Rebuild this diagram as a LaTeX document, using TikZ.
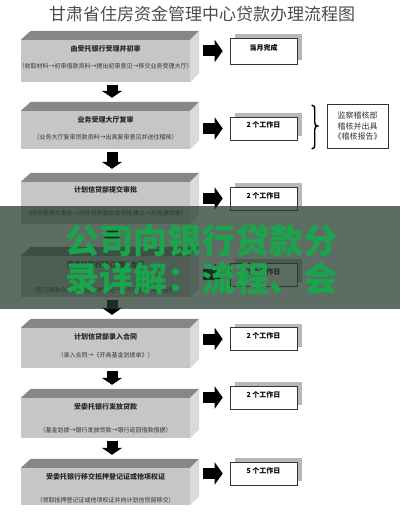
\documentclass[tikz,border=0pt]{standalone}
\usepackage{fontspec}
\setmainfont{Noto Sans CJK SC}
\usetikzlibrary{arrows.meta,shadows}
\definecolor{topgray}{RGB}{135,135,135}
\definecolor{frontgray}{RGB}{198,198,198}
\definecolor{sidegray}{RGB}{218,218,218}
\definecolor{bandgreen}{RGB}{40,60,48}
\definecolor{markgreen}{RGB}{25,165,75}

\begin{document}
\begin{tikzpicture}[x=1pt,y=-1pt,
  front/.style={fill=frontgray,minimum width=169pt,inner sep=0pt},
  boxtitle/.style={font=\fontsize{7}{8}\selectfont\bfseries,text=black!85,inner sep=0pt},
  boxnote/.style={font=\fontsize{6}{7}\selectfont,text=black!80,inner sep=0pt},
  daybox/.style={draw=black!80,line width=0.6pt,fill=white,minimum width=67pt,minimum height=23pt,
    inner sep=0pt,text depth=7pt,font=\fontsize{7}{8}\selectfont\bfseries,
    drop shadow={shadow xshift=5pt,shadow yshift=4pt,fill=black!28,opacity=1}},
  rightarrow/.style={line width=11pt,-{Triangle[width=22pt,length=8pt]},shorten <=13pt,shorten >=7pt},
  downarrow/.style={line width=11pt,-{Triangle[width=20pt,length=7pt]},shorten <=2.5pt,shorten >=13pt}]
  \useasboundingbox (0,0) rectangle (400,516);
  \node[font=\fontsize{17}{18}\selectfont,text=black!70] (title) at (202,14) {甘肃省住房资金管理中心贷款办理流程图};
  % front faces of the steps
  \node[front,minimum height=42pt] (b1) at (105.5,61) {};
  \node[front,minimum height=38pt] (b2) at (105.5,130) {};
  \node[front,minimum height=42pt] (b3) at (105.5,203) {};
  \node[front,minimum height=41pt] (b4) at (105.5,276.5) {};
  \node[front,minimum height=40pt] (b5) at (105.5,348) {};
  \node[front,minimum height=40pt] (b6) at (105.5,418) {};
  \node[front,minimum height=37pt] (b7) at (105.5,486.5) {};
  \foreach \i in {1,...,7} {
    \fill[topgray] (b\i.north west) -- ++(10,-9) -- ([shift={(9,-9)}]b\i.north east) -- (b\i.north east) -- cycle;
    \fill[sidegray] (b\i.north east) -- ++(9,-9) -- ([shift={(9,-9)}]b\i.south east) -- (b\i.south east) -- cycle;
  }
  \node[boxtitle] (t1) at ([yshift=-9pt]b1.north) {由受托银行受理并初审};
  \node[boxnote] (s1) at ([yshift=-26pt]b1.north) {（收取材料→初审借款资料→提出初审意见→移交业务受理大厅）};
  \node[boxtitle] (t2) at ([yshift=-9pt]b2.north) {业务受理大厅复审};
  \node[boxnote] (s2) at ([yshift=-26pt]b2.north) {（业务大厅复审贷款资料→出具复审意见并送往稽核）};
  \node[boxtitle] (t3) at ([yshift=-8pt]b3.north) {计划信贷部提交审批};
  \node[boxnote] (s3) at ([yshift=-31pt]b3.north) {（信贷部提交审批→召开贷款委员会审批通过→开具通知单）};
  \node[boxtitle] (t4) at ([yshift=-9pt]b4.north) {受委托银行签订借款合同};
  \node[boxnote] (s4) at ([yshift=-34pt]b4.north) {（签订借款合同→办理抵押登记→移交计划信贷部备件）};
  \node[boxtitle] (t5) at ([yshift=-9pt]b5.north) {计划信贷部录入合同};
  \node[boxnote] (s5) at ([yshift=-27pt]b5.north) {（录入合同→《开具基金划拨单》）};
  \node[boxtitle] (t6) at ([yshift=-9pt]b6.north) {受委托银行发放贷款};
  \node[boxnote] (s6) at ([yshift=-32pt]b6.north) {（基金划拨→银行发放贷款→银行返回借款借据）};
  \node[boxtitle] (t7) at ([yshift=-9pt]b7.north) {受委托银行移交抵押登记证或他项权证};
  \node[boxnote] (s7) at ([yshift=-32pt]b7.north) {（领取抵押登记证或他项权证并向计划信贷部移交）};
  % time boxes
  \node[daybox,minimum height=26pt] (r1) at (263.5,51) {当月完成};
  \node[daybox] (r2) at (263.5,128.5) {2 个工作日};
  \node[daybox] (r3) at (263.5,198.5) {2 个工作日};
  \node[daybox] (r4) at (263.5,274.5) {2 个工作日};
  \node[daybox] (r5) at (263.5,339) {2 个工作日};
  \node[daybox] (r6) at (263.5,397.5) {2 个工作日};
  \node[daybox] (r7) at (263.5,473.5) {5 个工作日};
  \foreach \i in {1,...,7} \draw[rightarrow] (b\i.east |- r\i.west) -- (r\i.west);
  \foreach \i/\j in {1/2,2/3,3/4,4/5,5/6,6/7} \draw[downarrow] ([xshift=6.5pt]b\i.south) -- ([xshift=6.5pt]b\j.north);
  % audit box with brace
  \node[draw=black!80,line width=0.6pt,minimum width=61pt,minimum height=44pt,align=center,
    font=\fontsize{8}{10.5}\selectfont,text=black!80] (audit) at (357.5,126) {监察稽核部\\稽核并出具\\《稽核报告》};
  \draw[line width=1.4pt,shift={(audit.west)}] (-15,-21) .. controls (-12,-21) and (-12,-19) .. (-12,-15) -- (-12,-4)
    .. controls (-12,-1) and (-11,0) .. (-9,0) .. controls (-11,0) and (-12,1) .. (-12,4) -- (-12,17)
    .. controls (-12,21) and (-12,23) .. (-15,23);
  % overlay band
  \fill[bandgreen,opacity=0.75] (0,206) rectangle (400,309);
  \node[font=\fontsize{34}{38}\selectfont\bfseries,text=markgreen,anchor=west,inner sep=0pt] (mark1) at (65,241) {公司向银行贷款分};
  \node[font=\fontsize{34}{38}\selectfont\bfseries,text=markgreen,anchor=west,inner sep=0pt] (mark2) at (65,279) {录详解：流程、会};
\end{tikzpicture}
\end{document}
